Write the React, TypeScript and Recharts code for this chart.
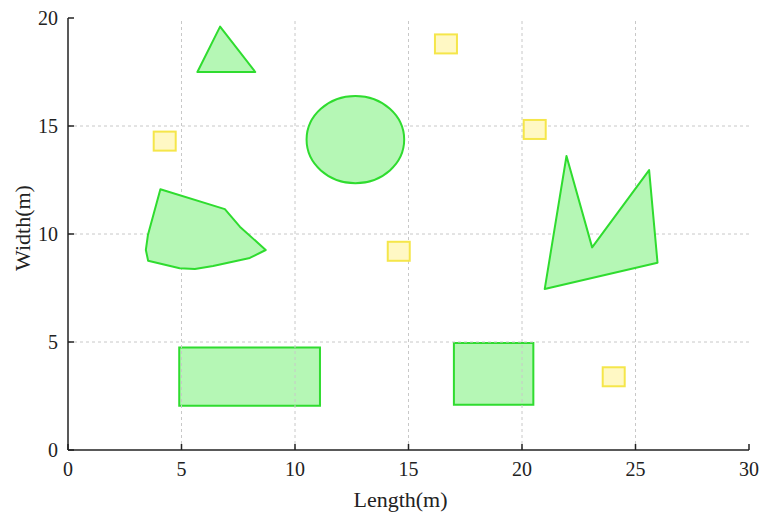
import React from "react";
import {
  ComposedChart,
  Scatter,
  XAxis,
  YAxis,
  ReferenceArea,
  ReferenceLine,
} from "recharts";

// obstacle outlines, in metres
const triangle = [
  { x: 6.7, y: 19.6 },
  { x: 5.7, y: 17.5 },
  { x: 8.25, y: 17.5 },
];

const blob = [
  { x: 4.07, y: 12.07 },
  { x: 6.91, y: 11.15 },
  { x: 7.57, y: 10.34 },
  { x: 8.71, y: 9.26 },
  { x: 8.01, y: 8.89 },
  { x: 6.39, y: 8.52 },
  { x: 5.59, y: 8.38 },
  { x: 4.92, y: 8.41 },
  { x: 3.53, y: 8.76 },
  { x: 3.43, y: 9.26 },
  { x: 3.52, y: 9.95 },
];

const zigzag = [
  { x: 21.96, y: 13.61 },
  { x: 23.09, y: 9.38 },
  { x: 25.6, y: 12.96 },
  { x: 25.97, y: 8.67 },
  { x: 21.0, y: 7.45 },
];

// centre, right-most point, top-most point
const ellipse = [
  { x: 12.66, y: 14.37 },
  { x: 14.81, y: 14.37 },
  { x: 12.66, y: 16.39 },
];

const rects = [
  { x1: 4.9, x2: 11.1, y1: 2.05, y2: 4.75 },
  { x1: 17.0, x2: 20.5, y1: 2.1, y2: 4.95 },
];

const targets = [
  { x: 4.26, y: 14.3 },
  { x: 16.65, y: 18.8 },
  { x: 20.56, y: 14.84 },
  { x: 14.57, y: 9.2 },
  { x: 24.04, y: 3.39 },
];

const xTicks = [0, 5, 10, 15, 20, 25, 30];
const yTicks = [0, 5, 10, 15, 20];
const xGrid = [5, 10, 15, 20, 25];
const yGrid = [5, 10, 15];

const GREEN = "#2fdc2f";
const GREEN_FILL = "#b5f7b5";
const YELLOW = "#f5e64a";
const YELLOW_FILL = "#fff8c4";
const FONT = "'Liberation Serif', 'Times New Roman', serif";

const noDot = () => <g />;

const polygonLine = (props: any) => {
  const pts = props.points || [];
  const d =
    pts.map((p: any, i: number) => `${i ? "L" : "M"}${p.x},${p.y}`).join(" ") +
    " Z";
  return (
    <path
      d={d}
      fill={GREEN_FILL}
      stroke={GREEN}
      strokeWidth={2}
      strokeLinejoin="round"
    />
  );
};

const ellipseLine = (props: any) => {
  const [c, r, t] = props.points || [];
  if (!c) return <g />;
  return (
    <ellipse
      cx={c.x}
      cy={c.y}
      rx={r.x - c.x}
      ry={c.y - t.y}
      fill={GREEN_FILL}
      stroke={GREEN}
      strokeWidth={2}
    />
  );
};

const Square = (props: any) => {
  const { cx, cy } = props;
  return (
    <rect
      x={cx - 11}
      y={cy - 9.5}
      width={22}
      height={19}
      fill={YELLOW_FILL}
      stroke={YELLOW}
      strokeWidth={2}
    />
  );
};

const YLabel = (props: any) => {
  const { x, y, height } = props.viewBox;
  const cx = x + 22;
  const cy = y + height / 2 - 6;
  return (
    <text
      x={cx}
      y={cy}
      transform={`rotate(-90, ${cx}, ${cy})`}
      textAnchor="middle"
      dominantBaseline="central"
      fontSize={22}
      fontFamily={FONT}
      fill="#222"
    >
      Width(m)
    </text>
  );
};

const tickStyle = { fill: "#222", fontSize: 20, fontFamily: FONT };

export default function App() {
  return (
    <div style={{ position: "absolute", left: 0, top: 0, background: "#fff" }}>
      <ComposedChart
        width={762}
        height={512}
        margin={{ top: 18, right: 13, left: 0, bottom: 0 }}
      >
        <XAxis
          type="number"
          dataKey="x"
          domain={[0, 30]}
          ticks={xTicks}
          allowDataOverflow
          height={62}
          tick={tickStyle}
          tickSize={-6}
          tickMargin={18}
          axisLine={{ stroke: "#222", strokeWidth: 1.5 }}
          tickLine={{ stroke: "#222", strokeWidth: 1.5 }}
          label={{
            value: "Length(m)",
            position: "insideBottom",
            offset: 5,
            dx: -8,
            fontSize: 22,
            fontFamily: FONT,
            fill: "#222",
          }}
        />
        <YAxis
          type="number"
          dataKey="y"
          domain={[0, 20]}
          ticks={yTicks}
          allowDataOverflow
          width={68}
          tick={tickStyle}
          tickSize={-6}
          tickMargin={16}
          axisLine={{ stroke: "#222", strokeWidth: 1.5 }}
          tickLine={{ stroke: "#222", strokeWidth: 1.5 }}
          label={<YLabel />}
        />
        {xGrid.map((v) => (
          <ReferenceLine
            key={`gx${v}`}
            x={v}
            stroke="#c8c8c8"
            strokeDasharray="3 3"
          />
        ))}
        {yGrid.map((v) => (
          <ReferenceLine
            key={`gy${v}`}
            y={v}
            stroke="#c8c8c8"
            strokeDasharray="3 3"
          />
        ))}
        {rects.map((r, i) => (
          <ReferenceArea
            key={`r${i}`}
            x1={r.x1}
            x2={r.x2}
            y1={r.y1}
            y2={r.y2}
            fill={GREEN_FILL}
            fillOpacity={1}
            stroke={GREEN}
            strokeWidth={2}
          />
        ))}
        <Scatter
          data={triangle}
          line={polygonLine}
          lineType="joint"
          shape={noDot}
          isAnimationActive={false}
        />
        <Scatter
          data={blob}
          line={polygonLine}
          lineType="joint"
          shape={noDot}
          isAnimationActive={false}
        />
        <Scatter
          data={zigzag}
          line={polygonLine}
          lineType="joint"
          shape={noDot}
          isAnimationActive={false}
        />
        <Scatter
          data={ellipse}
          line={ellipseLine}
          lineType="joint"
          shape={noDot}
          isAnimationActive={false}
        />
        <Scatter data={targets} shape={Square} isAnimationActive={false} />
      </ComposedChart>
    </div>
  );
}
